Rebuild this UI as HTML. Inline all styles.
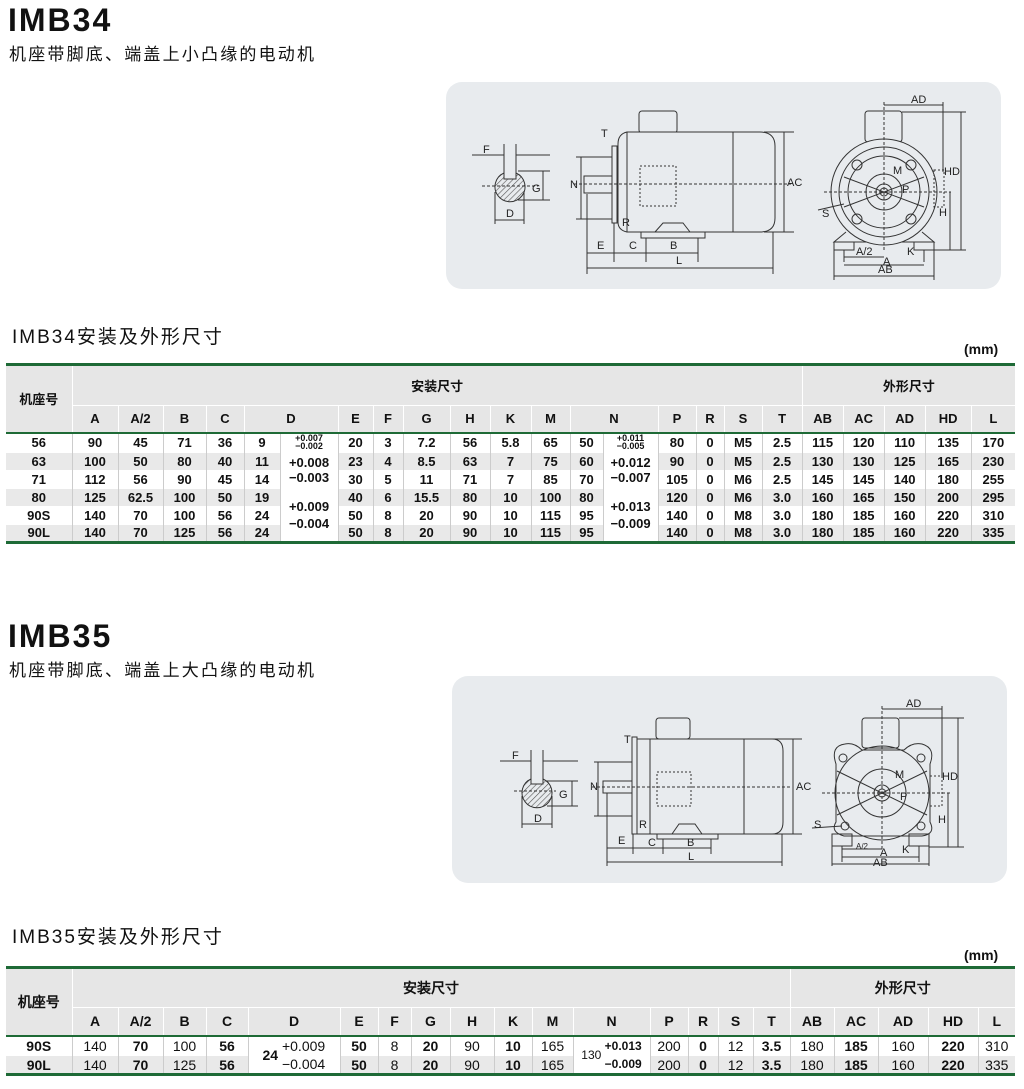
<!DOCTYPE html>
<html><head><meta charset="utf-8"><style>
*{margin:0;padding:0;box-sizing:border-box}
body{width:1024px;height:1089px;background:#fff;position:relative;overflow:hidden;font-family:"Liberation Sans","Noto Sans CJK SC",sans-serif;color:#111}
.abs{position:absolute}
.h1{font-size:32px;font-weight:bold;letter-spacing:2px}
.sub{font-size:17px;letter-spacing:2.2px}
.tt{font-size:19px;letter-spacing:2px}
.mm{font-size:14px;font-weight:bold}
table{position:absolute;left:6px;border-collapse:collapse;table-layout:fixed;width:1009px}
td{text-align:center;vertical-align:middle;padding:0;white-space:nowrap;overflow:hidden}
.t1 td{font-size:13px;font-weight:bold}
.hd td{background:#e6e6e6;border-left:1px solid #fff;border-right:1px solid #fff}
.hd .r2 td{border-top:1px solid #fff}
.dr td{border-left:1px solid #ccc;border-top:1px solid #fff;height:18px}
.g td{background:#e9e9e9}
.w td{background:#fff}
td.m{background:#fff!important}
.sm{font-size:9px;line-height:8px;display:inline-block}
.t2 td{font-family:"Liberation Sans Narrow","Liberation Sans",sans-serif;font-size:14px}
.t2 .hd td{font-weight:bold}
.b{font-weight:bold}
.panel{position:absolute;background:#e8ebee;border-radius:16px}
svg text{font-family:"Liberation Sans",sans-serif;font-size:11px;fill:#222}
</style></head><body>

<div class="abs h1" style="left:8px;top:2px">IMB34</div>
<div class="abs sub" style="left:9px;top:40px">机座带脚底、端盖上小凸缘的电动机</div>
<div class="abs tt" style="left:12px;top:322px">IMB34安装及外形尺寸</div>
<div class="abs mm" style="left:964px;top:341px">(mm)</div>

<div class="panel" style="left:446px;top:82px;width:555px;height:207px">
<svg width="555" height="207" viewBox="0 0 555 207" fill="none" stroke="#333" stroke-width="1">
<defs><pattern id="h" width="4" height="4" patternUnits="userSpaceOnUse" patternTransform="rotate(45)"><line x1="0" y1="0" x2="0" y2="4" stroke="#555" stroke-width="1.2"/></pattern></defs>
<path d="M58 91 A15 15 0 1 0 70 91 L70 97 L58 97 Z" fill="url(#h)"/>
<line x1="58" y1="62" x2="58" y2="92"/><line x1="70" y1="62" x2="70" y2="92"/>
<line x1="26" y1="73" x2="58" y2="73"/><line x1="70" y1="73" x2="104" y2="73"/>
<line x1="72" y1="89" x2="104" y2="89"/><line x1="72" y1="118" x2="104" y2="118"/><line x1="97" y1="89" x2="97" y2="118"/>
<line x1="36" y1="104" x2="92" y2="104" stroke-dasharray="3 2"/>
<line x1="49" y1="110" x2="49" y2="142"/><line x1="78" y1="110" x2="78" y2="142"/><line x1="49" y1="138" x2="78" y2="138"/>
<text x="37" y="71" stroke="none">F</text><text x="86" y="110" stroke="none">G</text><text x="60" y="135" stroke="none">D</text>
<rect x="193" y="29" width="38" height="22" rx="3" fill="#e8ebee"/>
<path d="M181 50 L314 50 Q329 50 329 64 L329 136 Q329 150 314 150 L181 150 Z" fill="#e8ebee"/>
<path d="M181 50 Q172 52 172 62 L172 140 Q172 148 181 150"/>
<line x1="287" y1="50" x2="287" y2="150"/>
<rect x="166" y="64" width="5" height="77"/>
<rect x="138" y="94" width="28" height="17"/>
<line x1="128" y1="102" x2="345" y2="102" stroke-dasharray="3 2"/>
<rect x="194" y="84" width="36" height="40" stroke-dasharray="2 2"/>
<path d="M209 150 L217 141 L237 141 L244 150"/>
<rect x="195" y="150" width="64" height="6"/>
<line x1="338" y1="50" x2="338" y2="150"/><line x1="318" y1="50" x2="348" y2="50"/><line x1="318" y1="150" x2="348" y2="150"/>
<text x="341" y="104" stroke="none">AC</text>
<line x1="135" y1="75" x2="135" y2="137"/><line x1="130" y1="75" x2="166" y2="75"/><line x1="130" y1="137" x2="166" y2="137"/>
<text x="124" y="106" stroke="none">N</text>
<text x="155" y="55" stroke="none">T</text><text x="176" y="144" stroke="none">R</text>
<line x1="141" y1="112" x2="141" y2="192"/><line x1="168" y1="141" x2="168" y2="180"/><line x1="200" y1="156" x2="200" y2="180"/><line x1="252" y1="156" x2="252" y2="180"/><line x1="327" y1="150" x2="327" y2="192"/>
<line x1="141" y1="171" x2="252" y2="171"/><line x1="141" y1="186" x2="327" y2="186"/>
<text x="151" y="167" stroke="none">E</text><text x="183" y="167" stroke="none">C</text><text x="224" y="167" stroke="none">B</text><text x="230" y="182" stroke="none">L</text>
<rect x="419" y="29" width="37" height="31" rx="3" fill="#e8ebee"/>
<path d="M400 150 L388 160 L488 160 L476 150"/>
<rect x="388" y="160" width="20" height="8"/><rect x="468" y="160" width="20" height="8"/>
<circle cx="438" cy="110" r="53" fill="#e8ebee"/><circle cx="438" cy="110" r="45"/><circle cx="438" cy="110" r="36"/>
<circle cx="438" cy="110" r="18"/><circle cx="438" cy="110" r="8"/><circle cx="438" cy="110" r="4"/>
<circle cx="411" cy="83" r="5"/><circle cx="465" cy="83" r="5"/><circle cx="411" cy="137" r="5"/><circle cx="465" cy="137" r="5"/>
<line x1="398" y1="95" x2="478" y2="125"/><line x1="478" y1="95" x2="398" y2="125"/>
<line x1="438" y1="20" x2="438" y2="170" stroke-dasharray="3 2"/><line x1="378" y1="110" x2="505" y2="110" stroke-dasharray="3 2"/>
<rect x="488" y="88" width="10" height="37" stroke-dasharray="2 2"/>
<line x1="438" y1="23" x2="497" y2="23"/><line x1="497" y1="20" x2="497" y2="90"/><text x="465" y="21" stroke="none">AD</text>
<line x1="515" y1="30" x2="515" y2="168"/><line x1="456" y1="30" x2="520" y2="30"/><text x="498" y="93" stroke="none">HD</text>
<line x1="504" y1="110" x2="504" y2="168"/><line x1="488" y1="168" x2="520" y2="168"/><text x="493" y="134" stroke="none">H</text>
<line x1="398" y1="168" x2="398" y2="180"/><line x1="478" y1="168" x2="478" y2="180"/>
<line x1="398" y1="175" x2="438" y2="175"/><line x1="398" y1="183" x2="478" y2="183"/><line x1="388" y1="168" x2="388" y2="198"/><line x1="488" y1="168" x2="488" y2="198"/><line x1="388" y1="194" x2="488" y2="194"/>
<text x="410" y="173" stroke="none">A/2</text><text x="461" y="173" stroke="none">K</text><text x="437" y="183" stroke="none">A</text><text x="432" y="191" stroke="none">AB</text>
<line x1="372" y1="128" x2="398" y2="122"/><text x="376" y="135" stroke="none">S</text>
<text x="447" y="92" stroke="none">M</text><text x="456" y="111" stroke="none">P</text>
</svg></div>

<table class="t1" style="top:363px;border-top:3px solid #1e6a36;border-bottom:3px solid #1e6a36">
<colgroup><col style="width:66px"><col style="width:46px"><col style="width:45px"><col style="width:43px"><col style="width:38px"><col style="width:36px"><col style="width:58px"><col style="width:35px"><col style="width:30px"><col style="width:47px"><col style="width:40px"><col style="width:41px"><col style="width:39px"><col style="width:33px"><col style="width:55px"><col style="width:38px"><col style="width:28px"><col style="width:38px"><col style="width:40px"><col style="width:41px"><col style="width:41px"><col style="width:41px"><col style="width:46px"><col style="width:44px"></colgroup>
<tbody class="hd">
<tr style="height:41px"><td rowspan="2" style="border-left:none">机座号</td><td colspan="18">安装尺寸</td><td colspan="5" style="border-right:none">外形尺寸</td></tr>
<tr class="r2" style="height:27px;border-bottom:2px solid #1e6a36"><td>A</td><td>A/2</td><td>B</td><td>C</td><td colspan="2">D</td><td>E</td><td>F</td><td>G</td><td>H</td><td>K</td><td>M</td><td colspan="2">N</td><td>P</td><td>R</td><td>S</td><td>T</td><td>AB</td><td>AC</td><td>AD</td><td>HD</td><td style="border-right:none">L</td></tr>
</tbody>
<tbody>
<tr class="dr w"><td style="border-left:none">56</td><td>90</td><td>45</td><td>71</td><td>36</td><td>9</td><td class="m"><span class="sm">+0.007<br>−0.002</span></td><td>20</td><td>3</td><td>7.2</td><td>56</td><td>5.8</td><td>65</td><td>50</td><td class="m"><span class="sm">+0.011<br>−0.005</span></td><td>80</td><td>0</td><td>M5</td><td>2.5</td><td>115</td><td>120</td><td>110</td><td>135</td><td>170</td></tr>
<tr class="dr g"><td style="border-left:none">63</td><td>100</td><td>50</td><td>80</td><td>40</td><td>11</td><td class="m" rowspan="2" style="line-height:15px">+0.008<br>−0.003</td><td>23</td><td>4</td><td>8.5</td><td>63</td><td>7</td><td>75</td><td>60</td><td class="m" rowspan="2" style="line-height:15px">+0.012<br>−0.007</td><td>90</td><td>0</td><td>M5</td><td>2.5</td><td>130</td><td>130</td><td>125</td><td>165</td><td>230</td></tr>
<tr class="dr w"><td style="border-left:none">71</td><td>112</td><td>56</td><td>90</td><td>45</td><td>14</td><td>30</td><td>5</td><td>11</td><td>71</td><td>7</td><td>85</td><td>70</td><td>105</td><td>0</td><td>M6</td><td>2.5</td><td>145</td><td>145</td><td>140</td><td>180</td><td>255</td></tr>
<tr class="dr g"><td style="border-left:none">80</td><td>125</td><td>62.5</td><td>100</td><td>50</td><td>19</td><td class="m" rowspan="3" style="line-height:17px">+0.009<br>−0.004</td><td>40</td><td>6</td><td>15.5</td><td>80</td><td>10</td><td>100</td><td>80</td><td class="m" rowspan="3" style="line-height:17px">+0.013<br>−0.009</td><td>120</td><td>0</td><td>M6</td><td>3.0</td><td>160</td><td>165</td><td>150</td><td>200</td><td>295</td></tr>
<tr class="dr w"><td style="border-left:none">90S</td><td>140</td><td>70</td><td>100</td><td>56</td><td>24</td><td>50</td><td>8</td><td>20</td><td>90</td><td>10</td><td>115</td><td>95</td><td>140</td><td>0</td><td>M8</td><td>3.0</td><td>180</td><td>185</td><td>160</td><td>220</td><td>310</td></tr>
<tr class="dr g"><td style="border-left:none">90L</td><td>140</td><td>70</td><td>125</td><td>56</td><td>24</td><td>50</td><td>8</td><td>20</td><td>90</td><td>10</td><td>115</td><td>95</td><td>140</td><td>0</td><td>M8</td><td>3.0</td><td>180</td><td>185</td><td>160</td><td>220</td><td>335</td></tr>
</tbody></table>

<div class="abs h1" style="left:8px;top:618px">IMB35</div>
<div class="abs sub" style="left:9px;top:656px">机座带脚底、端盖上大凸缘的电动机</div>
<div class="abs tt" style="left:12px;top:922px">IMB35安装及外形尺寸</div>
<div class="abs mm" style="left:964px;top:947px">(mm)</div>

<div class="panel" style="left:452px;top:676px;width:555px;height:207px">
<svg width="555" height="207" viewBox="0 0 555 207" fill="none" stroke="#333" stroke-width="1">
<defs><pattern id="h2" width="4" height="4" patternUnits="userSpaceOnUse" patternTransform="rotate(45)"><line x1="0" y1="0" x2="0" y2="4" stroke="#555" stroke-width="1.2"/></pattern></defs>
<path d="M79 103 A15 15 0 1 0 91 103 L91 108 L79 108 Z" fill="url(#h2)"/>
<line x1="79" y1="74" x2="79" y2="104"/><line x1="91" y1="74" x2="91" y2="104"/>
<line x1="48" y1="85" x2="79" y2="85"/><line x1="91" y1="85" x2="126" y2="85"/>
<line x1="95" y1="105" x2="126" y2="105"/><line x1="95" y1="130" x2="126" y2="130"/><line x1="120" y1="105" x2="120" y2="130"/>
<line x1="62" y1="115" x2="104" y2="115" stroke-dasharray="3 2"/>
<line x1="70" y1="120" x2="70" y2="152"/><line x1="100" y1="120" x2="100" y2="152"/><line x1="70" y1="148" x2="100" y2="148"/>
<text x="60" y="83" stroke="none">F</text><text x="107" y="122" stroke="none">G</text><text x="82" y="146" stroke="none">D</text>
<rect x="204" y="42" width="34" height="21" rx="3" fill="#e8ebee"/>
<path d="M198 63 L320 63 Q331 63 331 75 L331 146 Q331 158 320 158 L198 158 Z" fill="#e8ebee"/>
<line x1="292" y1="63" x2="292" y2="158"/>
<rect x="180" y="61" width="5" height="97"/>
<line x1="185" y1="63" x2="198" y2="63"/><line x1="185" y1="158" x2="198" y2="158"/>
<rect x="151" y="105" width="29" height="12"/>
<line x1="140" y1="111" x2="338" y2="111" stroke-dasharray="3 2"/>
<rect x="205" y="96" width="34" height="34" stroke-dasharray="2 2"/>
<path d="M220 158 L227 148 L243 148 L250 158"/>
<rect x="205" y="158" width="61" height="5"/>
<line x1="341" y1="63" x2="341" y2="158"/><line x1="320" y1="63" x2="350" y2="63"/><line x1="320" y1="158" x2="350" y2="158"/>
<text x="344" y="114" stroke="none">AC</text>
<line x1="146" y1="86" x2="146" y2="140"/><line x1="142" y1="86" x2="180" y2="86"/><line x1="142" y1="140" x2="180" y2="140"/>
<text x="138" y="114" stroke="none">N</text>
<text x="172" y="67" stroke="none">T</text><text x="187" y="152" stroke="none">R</text>
<line x1="155" y1="117" x2="155" y2="190"/><line x1="181" y1="158" x2="181" y2="178"/><line x1="211" y1="163" x2="211" y2="178"/><line x1="259" y1="163" x2="259" y2="178"/><line x1="330" y1="158" x2="330" y2="190"/>
<line x1="155" y1="172" x2="259" y2="172"/><line x1="155" y1="186" x2="330" y2="186"/>
<text x="166" y="168" stroke="none">E</text><text x="196" y="170" stroke="none">C</text><text x="235" y="170" stroke="none">B</text><text x="236" y="184" stroke="none">L</text>
<rect x="410" y="42" width="37" height="30" rx="3" fill="#e8ebee"/>
<path d="M384 88 Q378 70 393 68 Q402 66 410 74 L452 74 Q460 66 470 68 Q484 72 478 88 L478 146 Q484 158 470 160 L392 160 Q378 156 384 146 Z" fill="#e8ebee"/>
<rect x="380" y="158" width="20" height="12"/><rect x="457" y="158" width="20" height="12"/>
<circle cx="430" cy="117" r="47"/><circle cx="430" cy="117" r="24"/><circle cx="430" cy="117" r="8"/><circle cx="430" cy="117" r="4"/>
<circle cx="391" cy="82" r="4"/><circle cx="469" cy="82" r="4"/><circle cx="393" cy="150" r="4"/><circle cx="469" cy="150" r="4"/>
<line x1="385" y1="95" x2="475" y2="139"/><line x1="475" y1="95" x2="385" y2="139"/>
<line x1="430" y1="30" x2="430" y2="175" stroke-dasharray="3 2"/><line x1="370" y1="117" x2="498" y2="117" stroke-dasharray="3 2"/>
<rect x="478" y="100" width="12" height="30" stroke-dasharray="2 2"/>
<line x1="430" y1="33" x2="490" y2="33"/><line x1="490" y1="30" x2="490" y2="100"/><text x="454" y="31" stroke="none">AD</text>
<line x1="506" y1="42" x2="506" y2="171"/><line x1="447" y1="42" x2="512" y2="42"/><text x="490" y="104" stroke="none">HD</text>
<line x1="496" y1="117" x2="496" y2="171"/><line x1="477" y1="171" x2="512" y2="171"/><text x="486" y="147" stroke="none">H</text>
<line x1="390" y1="170" x2="390" y2="186"/><line x1="467" y1="170" x2="467" y2="186"/>
<line x1="390" y1="173" x2="430" y2="173"/><line x1="390" y1="181" x2="467" y2="181"/><line x1="380" y1="170" x2="380" y2="190"/><line x1="477" y1="170" x2="477" y2="190"/><line x1="380" y1="188" x2="477" y2="188"/>
<text x="404" y="173" stroke="none" style="font-size:8px">A/2</text><text x="450" y="177" stroke="none">K</text><text x="428" y="180" stroke="none">A</text><text x="421" y="190" stroke="none">AB</text>
<line x1="360" y1="152" x2="390" y2="150"/><text x="362" y="152" stroke="none">S</text>
<text x="443" y="102" stroke="none">M</text><text x="448" y="124" stroke="none">P</text>
</svg></div>

<table class="t2" style="top:966px;border-top:3px solid #1e6a36;border-bottom:3px solid #1e6a36">
<colgroup><col style="width:66px"><col style="width:46px"><col style="width:45px"><col style="width:43px"><col style="width:42px"><col style="width:92px"><col style="width:38px"><col style="width:33px"><col style="width:39px"><col style="width:44px"><col style="width:38px"><col style="width:41px"><col style="width:77px"><col style="width:38px"><col style="width:30px"><col style="width:35px"><col style="width:37px"><col style="width:44px"><col style="width:44px"><col style="width:50px"><col style="width:50px"><col style="width:37px"></colgroup>
<tbody class="hd">
<tr style="height:40px"><td rowspan="2" style="border-left:none">机座号</td><td colspan="16">安装尺寸</td><td colspan="5" style="border-right:none">外形尺寸</td></tr>
<tr class="r2" style="height:28px;border-bottom:2px solid #1e6a36"><td>A</td><td>A/2</td><td>B</td><td>C</td><td>D</td><td>E</td><td>F</td><td>G</td><td>H</td><td>K</td><td>M</td><td>N</td><td>P</td><td>R</td><td>S</td><td>T</td><td>AB</td><td>AC</td><td>AD</td><td>HD</td><td style="border-right:none">L</td></tr>
</tbody>
<tbody>
<tr class="dr w" style="height:20px"><td class="b" style="border-left:none">90S</td><td>140</td><td class="b">70</td><td>100</td><td class="b">56</td><td class="m" rowspan="2" style="line-height:18px;text-align:left;padding-left:14px"><b style="vertical-align:middle">24</b> <span style="display:inline-block;vertical-align:middle">+0.009<br>−0.004</span></td><td class="b">50</td><td>8</td><td class="b">20</td><td>90</td><td class="b">10</td><td>165</td><td class="m" rowspan="2" style="line-height:18px;font-size:12px"><span style="vertical-align:middle">130</span> <b style="display:inline-block;vertical-align:middle">+0.013<br>−0.009</b></td><td>200</td><td class="b">0</td><td>12</td><td class="b">3.5</td><td>180</td><td class="b">185</td><td>160</td><td class="b">220</td><td>310</td></tr>
<tr class="dr g" style="height:19px"><td class="b" style="border-left:none">90L</td><td>140</td><td class="b">70</td><td>125</td><td class="b">56</td><td class="b">50</td><td>8</td><td class="b">20</td><td>90</td><td class="b">10</td><td>165</td><td>200</td><td class="b">0</td><td>12</td><td class="b">3.5</td><td>180</td><td class="b">185</td><td>160</td><td class="b">220</td><td>335</td></tr>
</tbody></table>
</body></html>
